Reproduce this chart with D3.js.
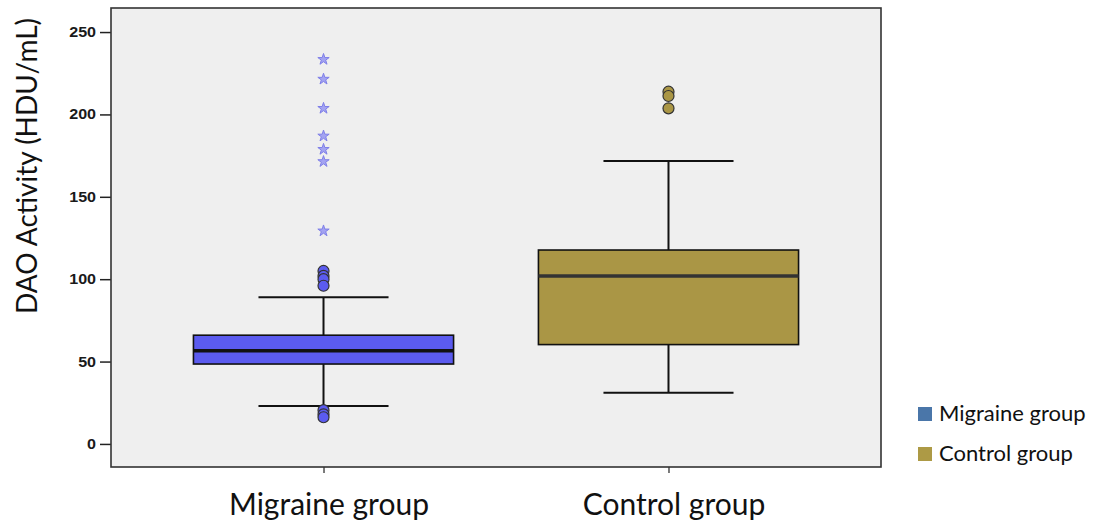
<!DOCTYPE html>
<html>
<head>
<meta charset="utf-8">
<script src="https://cdn.jsdelivr.net/npm/d3@7"></script>
<style>
  html, body { margin: 0; padding: 0; background: #ffffff; }
  svg { display: block; }
</style>
</head>
<body>
<svg id="chart" width="1097" height="529"></svg>
<script>
// Groups and their box-plot summaries (DAO activity, HDU/mL)
const groups = ["Migraine group", "Control group"];
const q1 = [48.5, 60.3];
const median = [56.6, 102];
const q3 = [66, 117.7];
const whiskerLow = [23, 31];
const whiskerHigh = [89, 171.7];
// Mild outliers (circles) and extreme outliers (stars)
const outliersMigraine = [105, 102, 100, 96, 20.5, 18, 16.2];
const outliersControl = [213.8, 211.2, 203.7];
const extremesMigraine = [234, 222, 204.3, 187.5, 179.4, 172, 129.9];
const yTicks = [0, 50, 100, 150, 200, 250];
const boxColors = ["#5b5bef", "#aa9645"];
const legendColors = ["#4a76a9", "#ad9a45"];
const starColor = "#7f7fe8";

const svg = d3.select("#chart");
const frame = { left: 111, right: 881, top: 8, bottom: 467 };

const y = d3.scaleLinear().domain([-14, 264.6]).range([frame.bottom, frame.top]);
const x = d3.scalePoint().domain(groups).range([frame.left, frame.right]).padding(0.616);
const boxW = x.step() * 0.754;
const capW = boxW * 0.5;

// Plot panel
svg.append("rect")
  .attr("x", frame.left).attr("y", frame.top)
  .attr("width", frame.right - frame.left).attr("height", frame.bottom - frame.top)
  .attr("fill", "#efefef").attr("stroke", "none");

// Y axis
const yAxis = svg.append("g")
  .attr("transform", `translate(${frame.left},0)`)
  .call(d3.axisLeft(y).tickValues(yTicks).tickSize(11).tickPadding(3).tickFormat(d3.format("d")));
yAxis.select(".domain").remove();
yAxis.selectAll(".tick line").attr("stroke", "#222").attr("stroke-width", 1.5);
yAxis.selectAll(".tick text")
  .attr("fill", "#1a1a1a")
  .style("font-family", "'Liberation Sans', Arial, sans-serif")
  .style("font-weight", "bold")
  .style("font-size", "14px")
  .attr("transform", "scale(1.15,1)")
  .attr("dx", "1");

// X axis ticks and category labels
const xAxis = svg.append("g")
  .attr("transform", `translate(0,${frame.bottom})`)
  .call(d3.axisBottom(x).tickSize(6).tickPadding(21));
xAxis.select(".domain").remove();
xAxis.selectAll(".tick line").attr("stroke", "#222").attr("stroke-width", 1.2);
xAxis.selectAll(".tick text")
  .attr("fill", "#111")
  .attr("dx", 5)
  .style("font-family", "Lato, 'Open Sans', sans-serif")
  .style("font-size", "30px");

// Frame border
svg.append("rect")
  .attr("x", frame.left).attr("y", frame.top)
  .attr("width", frame.right - frame.left).attr("height", frame.bottom - frame.top)
  .attr("fill", "none").attr("stroke", "#333").attr("stroke-width", 1.6);

// Boxes
const boxes = svg.append("g");
groups.forEach((g, i) => {
  const cx = x(g);
  const gg = boxes.append("g");
  // whisker stems
  gg.append("line").attr("x1", cx).attr("x2", cx)
    .attr("y1", y(whiskerHigh[i])).attr("y2", y(q3[i]))
    .attr("stroke", "#111").attr("stroke-width", 2);
  gg.append("line").attr("x1", cx).attr("x2", cx)
    .attr("y1", y(q1[i])).attr("y2", y(whiskerLow[i]))
    .attr("stroke", "#111").attr("stroke-width", 2);
  // caps
  [whiskerHigh[i], whiskerLow[i]].forEach(v => {
    gg.append("line").attr("x1", cx - capW / 2).attr("x2", cx + capW / 2)
      .attr("y1", y(v)).attr("y2", y(v))
      .attr("stroke", "#111").attr("stroke-width", 2);
  });
  // box
  gg.append("rect")
    .attr("x", cx - boxW / 2).attr("width", boxW)
    .attr("y", y(q3[i])).attr("height", y(q1[i]) - y(q3[i]))
    .attr("fill", boxColors[i]).attr("stroke", "#111").attr("stroke-width", 1.6);
  // median
  gg.append("line").attr("x1", cx - boxW / 2).attr("x2", cx + boxW / 2)
    .attr("y1", y(median[i])).attr("y2", y(median[i]))
    .attr("stroke", i === 0 ? "#111" : "#333").attr("stroke-width", 3.5);
});

// Outlier circles
const outlierSets = [outliersMigraine, outliersControl];
outlierSets.forEach((set, i) => {
  svg.append("g").selectAll("circle").data(set).join("circle")
    .attr("cx", x(groups[i])).attr("cy", d => y(d)).attr("r", 5.5)
    .attr("fill", boxColors[i]).attr("stroke", "#333").attr("stroke-width", 1.2);
});

// Extreme values as stars
const star = d3.symbol().type(d3.symbolStar).size(40);
svg.append("g").selectAll("path").data(extremesMigraine).join("path")
  .attr("d", star)
  .attr("transform", d => `translate(${x(groups[0])},${y(d) + 1})`)
  .attr("fill", "#a3a3f2").attr("stroke", starColor).attr("stroke-width", 1);

// Y axis title
svg.append("text")
  .attr("transform", `translate(37,${166}) rotate(-90)`)
  .attr("text-anchor", "middle")
  .attr("fill", "#111")
  .style("font-family", "Lato, 'Open Sans', sans-serif")
  .style("font-size", "28px")
  .text("DAO Activity (HDU/mL)");

// Legend
const legend = svg.append("g").attr("transform", "translate(918,407)");
groups.forEach((g, i) => {
  const row = legend.append("g").attr("transform", `translate(0,${i * 40})`);
  row.append("rect").attr("width", 14).attr("height", 14).attr("fill", legendColors[i]);
  row.append("text").attr("x", 21).attr("y", 14)
    .attr("fill", "#111")
    .style("font-family", "Lato, 'Open Sans', sans-serif")
    .style("font-size", "22px")
    .text(g);
});
</script>
</body>
</html>
